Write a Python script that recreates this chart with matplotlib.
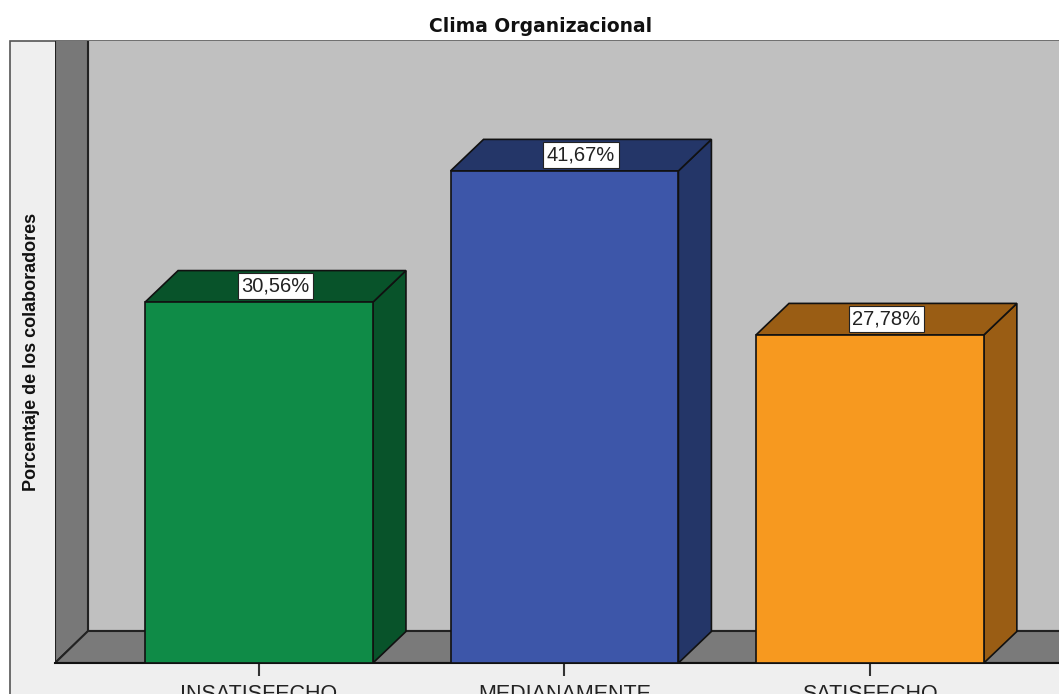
import matplotlib.pyplot as plt
from matplotlib.patches import Rectangle, Polygon

# datos del grafico
categorias = ['INSATISFECHO', 'MEDIANAMENTE', 'SATISFECHO']
porcentajes = [30.56, 41.67, 27.78]
etiquetas = ['30,56%', '41,67%', '27,78%']
colores_frente = ['#0F8B47', '#3D56A9', '#F7991F']
colores_lado = ['#08532A', '#243668', '#9A5D14']

W, H = 1059, 694
fig = plt.figure(figsize=(W / 100, H / 100), dpi=100)
fig.patch.set_facecolor('white')

# marco claro del area del grafico
fig.add_artist(Rectangle((10 / W, -0.1), 1.2, 1.1 - 41 / H, transform=fig.transFigure,
                         facecolor='#EFEFEF', edgecolor='#555555', lw=1.2, zorder=0))

ax = fig.add_axes([55 / W, 31 / H, (W - 55) / W, (663 - 41) / H])
ax.set_xlim(-0.668, 2.619)
ax.set_ylim(0, 52.67)
ax.patch.set_alpha(0)
for s in ax.spines.values():
    s.set_visible(False)

x0, x1 = ax.get_xlim()
ytop = ax.get_ylim()[1]
dx, dy = 0.108, 2.67   # profundidad 3D
ancho = 0.746

# paredes y piso
ax.add_patch(Polygon([(x0 + dx, dy), (x1 + 1, dy), (x1 + 1, ytop + 5), (x0 + dx, ytop + 5)],
                     closed=True, facecolor='#C0C0C0', edgecolor='#222222', lw=1.5, zorder=1))
ax.add_patch(Polygon([(x0, 0), (x0 + dx, dy), (x0 + dx, ytop + 5), (x0, ytop + 5)],
                     closed=True, facecolor='#787878', edgecolor='#222222', lw=1.5, zorder=1))
ax.add_patch(Polygon([(x0, 0), (x1 + 1, 0), (x1 + 1, dy), (x0 + dx, dy)],
                     closed=True, facecolor='#7A7A7A', edgecolor='#222222', lw=1.5, zorder=1))

# barras 3D
for i, v in enumerate(porcentajes):
    xl, xr = i - ancho / 2, i + ancho / 2
    ax.add_patch(Polygon([(xr, 0), (xr + dx, dy), (xr + dx, v + dy), (xr, v)], closed=True,
                         facecolor=colores_lado[i], edgecolor='#111111', lw=1.2, zorder=3))
    ax.add_patch(Polygon([(xl, v), (xr, v), (xr + dx, v + dy), (xl + dx, v + dy)], closed=True,
                         facecolor=colores_lado[i], edgecolor='#111111', lw=1.2, zorder=3))
    ax.add_patch(Rectangle((xl, 0), ancho, v, facecolor=colores_frente[i],
                           edgecolor='#111111', lw=1.2, zorder=4))
    ax.text(i + dx / 2, v + dy / 2, etiquetas[i], ha='center', va='center', fontsize=14.5,
            family='Liberation Sans', color='#222222', zorder=5,
            bbox=dict(boxstyle='square,pad=0.18', facecolor='white', edgecolor='#222222', lw=0.8))

ax.plot([x0, x1 + 1], [0, 0], color='#111111', lw=1.5, zorder=2, clip_on=False)

ax.set_xticks(range(len(categorias)))
ax.set_xticklabels(categorias, fontsize=15.5, family='Liberation Sans', color='#222222')
ax.tick_params(axis='x', length=9, width=1.5, color='#333333', pad=6)
ax.set_yticks([])

fig.text(541 / W, 1 - 27 / H, 'Clima Organizacional', ha='center', va='center',
         fontsize=13.5, fontweight='bold', family='DejaVu Sans', color='#111111')
fig.text(32 / W, 1 - 352 / H, 'Porcentaje de los colaboradores', rotation=90,
         ha='center', va='center', fontsize=13, fontweight='bold',
         family='Liberation Sans', color='#111111')

fig.savefig('out.png', dpi=100)
